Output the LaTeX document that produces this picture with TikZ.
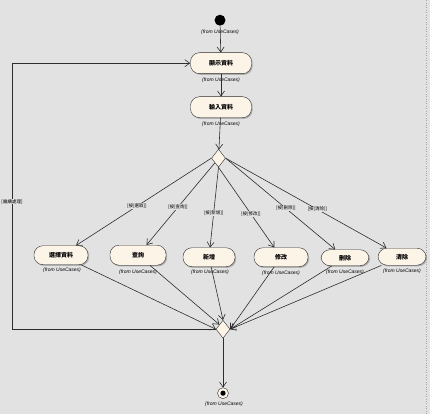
\documentclass[tikz,border=0pt]{standalone}
\usepackage{fontspec}
\setmainfont{Liberation Sans}
\newfontfamily\cjk{Noto Sans CJK TC}
\usetikzlibrary{shapes.geometric, arrows.meta, positioning, shadows}
\definecolor{bggray}{RGB}{226, 226, 226}
\definecolor{actfill}{RGB}{253, 244, 232}
\definecolor{lineg}{RGB}{45, 45, 45}

\begin{document}
\begin{tikzpicture}[x=1pt, y=-1pt,
  actbox/.style={draw=lineg, fill=actfill, rounded corners=9pt, minimum width=54pt, minimum height=19pt, inner sep=1pt, font=\cjk\bfseries\fontsize{6}{7}\selectfont, drop shadow={shadow xshift=1.2pt, shadow yshift=-1.2pt, fill=black!45, opacity=0.6}},
  fromlbl/.style={font=\itshape\fontsize{5}{6}\selectfont, inner sep=0pt},
  guard/.style={font=\cjk\fontsize{4.5}{5}\selectfont, fill=bggray, inner sep=0.6pt},
  choice/.style={diamond, draw=lineg, fill=actfill, minimum width=14pt, minimum height=18pt, inner sep=0pt},
  flow/.style={draw=lineg, semithick, -{Straight Barb[length=5pt, width=7pt]}}
]
  \fill[bggray] (0,0) rectangle (430,414);
  \draw[dotted, gray!70] (426.5,0) -- (426.5,414);

  % Start and first steps
  \node[circle, fill=black, minimum size=11pt, inner sep=0pt] (st) at (220,20) {};
  \node[fromlbl] (fst) at (220,32) {(from UseCases)};
  \node[actbox, minimum width=61pt, minimum height=21pt] (a1) at (221,63) {顯示資料};
  \node[fromlbl] (fa1) at (221,80) {(from UseCases)};
  \node[actbox, minimum width=61pt, minimum height=21pt] (a2) at (221,107) {輸入資料};
  \node[fromlbl] (fa2) at (221,124) {(from UseCases)};
  \node[choice] (dec) at (218.5,158) {};

  % Actions
  \node[actbox] (b1) at (61,255) {選擇資料};
  \node[fromlbl] (fb1) at (62,270) {(from UseCases)};
  \node[actbox, minimum width=56pt, minimum height=20pt] (b2) at (138,255) {查詢};
  \node[fromlbl] (fb2) at (138,272) {(from UseCases)};
  \node[actbox, minimum width=52pt] (b3) at (209,257) {新增};
  \node[fromlbl] (fb3) at (210,272) {(from UseCases)};
  \node[actbox] (b4) at (281,257) {修改};
  \node[fromlbl] (fb4) at (281,273) {(from UseCases)};
  \node[actbox, minimum width=48pt, minimum height=16pt] (b5) at (345,257.5) {刪除};
  \node[fromlbl] (fb5) at (345,272) {(from UseCases)};
  \node[actbox, minimum width=48pt, minimum height=17pt] (b6) at (402,256.5) {清除};
  \node[fromlbl] (fb6) at (402,271) {(from UseCases)};

  % Merge and end
  \node[choice] (mg) at (223,329) {};
  \node[circle, draw=lineg, fill=actfill, minimum size=11pt, inner sep=0pt] (en) at (223,393) {};
  \fill[black] (en.center) circle (2.6pt);
  \node[fromlbl] (fen) at (224,404) {(from UseCases)};
  \coordinate (lp) at (12,329);

  \draw[flow] (st) -- (a1);
  \draw[flow] (a1) -- (a2);
  \draw[flow] (a2) -- (dec);

  \draw[flow] (dec.west) -- (b1) node[guard, pos=0.55] {[按[選取]]};
  \draw[flow] (dec.south west) -- (b2) node[guard, pos=0.54] {[按[查詢]]};
  \draw[flow] (dec.south) -- (b3) node[guard, pos=0.57] {[按[新增]]};
  \draw[flow] (dec.south) -- (b4) node[guard, pos=0.58] {[按[修改]]};
  \draw[flow] (dec.east) -- (b5) node[guard, pos=0.55] {[按[刪除]]};
  \draw[flow] (dec.east) -- (b6) node[guard, pos=0.57] {[按[清除]]};

  \draw[flow] (b1) -- (mg.west);
  \draw[flow] (b2) -- (mg.north west);
  \draw[flow] (b3) -- (mg.north);
  \foreach \b in {b4, b5, b6}
    \draw[flow] (\b) -- (mg.east);

  \draw[flow] (mg) -- (en);

  % Loop back
  \draw[flow] (mg.west) -- (lp) |- (a1.west)
    node[guard, pos=0.24] {[繼續處理]};
\end{tikzpicture}
\end{document}
